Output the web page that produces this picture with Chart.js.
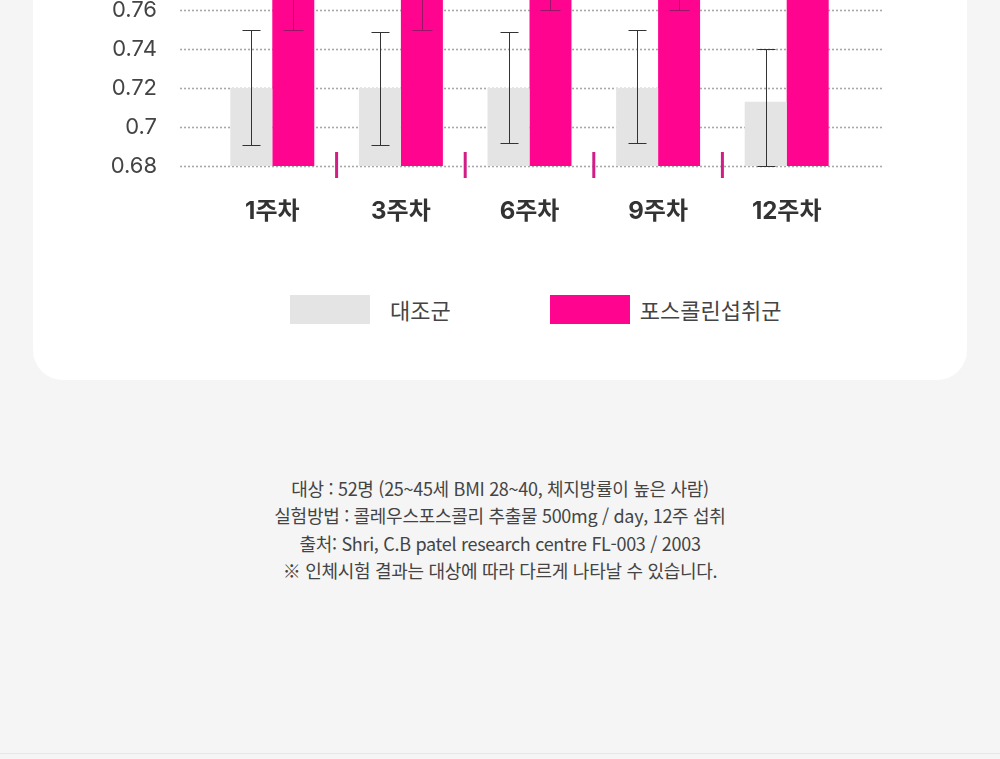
<!DOCTYPE html>
<html lang="ko">
<head>
<meta charset="utf-8">
<script src="https://cdn.jsdelivr.net/npm/chart.js@4.4.1/dist/chart.umd.min.js"></script>
<style>
  html, body { margin: 0; padding: 0; }
  body {
    width: 1000px; height: 759px; overflow: hidden; position: relative;
    background: #f5f5f5;
    font-family: "Noto Sans CJK KR", "Noto Sans", sans-serif;
  }
  .card {
    position: absolute; left: 33px; top: -100px; width: 934px; height: 480px;
    background: #fff; border-radius: 30px;
  }
  .chart-box { position: absolute; left: 0; top: -249px; width: 1000px; height: 489px; }
  .legend { position: absolute; left: 290px; top: 295px; display: flex; align-items: center; }
  .legend .item { display: flex; align-items: center; margin-right: 99px; }
  .legend .box { width: 80px; height: 29px; margin-right: 20px; }
  .legend .item:nth-child(2) .box { margin-right: 10px; }
  .legend .txt { font-size: 22px; color: #444; line-height: 29px; }
  .note {
    position: absolute; left: 0; top: 475px; width: 1000px; text-align: center;
    font-size: 18px; line-height: 27.3px; color: #444; letter-spacing: -0.3px;
  }
  .bottom-line { position: absolute; left: 0; top: 753px; width: 1000px; height: 1px; background: #e6e6e6; }
</style>
</head>
<body>
<div class="card"></div>
<div class="chart-box"><canvas id="bar_chart"></canvas></div>
<div class="legend" id="legend"></div>
<div class="note">
  대상 : 52명 (25~45세 BMI 28~40, 체지방률이 높은 사람)<br>
  실험방법 : 콜레우스포스콜리 추출물 500mg / day, 12주 섭취<br>
  출처: Shri, C.B patel research centre FL-003 / 2003<br>
  ※ 인체시험 결과는 대상에 따라 다르게 나타날 수 있습니다.
</div>
<div class="bottom-line"></div>

<script>
// 데이터
const weeks = ["1주차", "3주차", "6주차", "9주차", "12주차"];

const control_label = "대조군";
const control_values = [0.72, 0.72, 0.72, 0.72, 0.713];
const control_err_low = [0.691, 0.691, 0.692, 0.692, 0.68];
const control_err_high = [0.75, 0.749, 0.749, 0.75, 0.74];

// 위쪽은 잘려서 보이지 않음 - 추정값
const forskolin_label = "포스콜린섭취군";
const forskolin_values = [0.79, 0.79, 0.8, 0.8, 0.83];
const forskolin_err_low = [0.75, 0.75, 0.76, 0.76, 0.79];
const forskolin_err_high = [0.83, 0.83, 0.84, 0.84, 0.87];

const y_ticks = [0.68, 0.7, 0.72, 0.74, 0.76, 0.78, 0.8, 0.82, 0.84, 0.86];

const gray = "#e4e4e4";
const pink = "#ff048f";

// 점선 격자 (차트 영역보다 양옆으로 조금 길게)
const dottedGrid = {
  id: "dottedGrid",
  beforeDatasetsDraw(chart) {
    const { ctx, chartArea, scales } = chart;
    ctx.save();
    ctx.strokeStyle = "#a8a8a8";
    ctx.lineWidth = 1.6;
    ctx.setLineDash([2, 2]);
    y_ticks.forEach((v) => {
      const y = Math.round(scales.y.getPixelForValue(v)) + 0.5;
      ctx.beginPath();
      ctx.moveTo(chartArea.left - 28, y);
      ctx.lineTo(chartArea.right + 33, y);
      ctx.stroke();
    });
    ctx.restore();
  },
};

// 에러 바 + 구분 표시
const errorBars = {
  id: "errorBars",
  afterDatasetsDraw(chart) {
    const { ctx, scales } = chart;
    const sets = [
      { low: control_err_low, high: control_err_high, color: "#333", cap: 18 },
      { low: forskolin_err_low, high: forskolin_err_high, color: "#9c1468", cap: 20 },
    ];
    ctx.save();
    sets.forEach((s, di) => {
      const meta = chart.getDatasetMeta(di);
      meta.data.forEach((bar, i) => {
        const x = Math.round(bar.x) + 0.5;
        const y1 = Math.round(scales.y.getPixelForValue(s.low[i])) + 0.5;
        const y2 = Math.round(scales.y.getPixelForValue(s.high[i])) + 0.5;
        ctx.strokeStyle = s.color;
        ctx.lineWidth = 1;
        ctx.beginPath();
        ctx.moveTo(x, y1);
        ctx.lineTo(x, y2);
        ctx.moveTo(x - s.cap / 2, y1);
        ctx.lineTo(x + s.cap / 2, y1);
        ctx.moveTo(x - s.cap / 2, y2);
        ctx.lineTo(x + s.cap / 2, y2);
        ctx.stroke();
      });
    });

    // 주차 사이 분홍 구분선
    const base = scales.y.getPixelForValue(y_ticks[0]);
    ctx.strokeStyle = "#d21c86";
    ctx.lineWidth = 3;
    for (let i = 0; i < weeks.length - 1; i++) {
      const x = (scales.x.getPixelForValue(i) + scales.x.getPixelForValue(i + 1)) / 2;
      ctx.beginPath();
      ctx.moveTo(x, base - 14);
      ctx.lineTo(x, base + 12);
      ctx.stroke();
    }
    ctx.restore();
  },
};

const ctx = document.getElementById("bar_chart").getContext("2d");

const my_chart = new Chart(ctx, {
  type: "bar",
  data: {
    labels: weeks,
    datasets: [
      { label: control_label, data: control_values, backgroundColor: gray },
      { label: forskolin_label, data: forskolin_values, backgroundColor: pink },
    ],
  },
  options: {
    responsive: true,
    maintainAspectRatio: false,
    animation: false,
    layout: { padding: { top: 15, right: 149, bottom: 0, left: 0 } },
    datasets: { bar: { categoryPercentage: 0.653, barPercentage: 1.0 } },
    plugins: { legend: { display: false }, tooltip: { enabled: false } },
    scales: {
      x: {
        grid: { display: false, drawTicks: false },
        border: { display: false },
        ticks: {
          padding: 31,
          color: "#333",
          font: { family: "Inter, 'Noto Sans CJK KR'", size: 24, weight: "bold", lineHeight: 1.2 },
        },
        afterFit: (scale) => { scale.height = 74; },
      },
      y: {
        min: 0.68,
        max: 0.86,
        grid: { display: false, drawTicks: false },
        border: { display: false },
        ticks: {
          stepSize: 0.02,
          padding: 51,
          color: "#444",
          font: { family: "Inter, 'Noto Sans CJK KR'", size: 22 },
          callback: (v) => String(+Number(v).toFixed(2)),
        },
        afterFit: (scale) => { scale.width = 208; },
      },
    },
  },
  plugins: [dottedGrid, errorBars],
});

// 범례
const legend_el = document.getElementById("legend");
my_chart.data.datasets.forEach((ds) => {
  const item = document.createElement("div");
  item.className = "item";
  item.innerHTML = `<span class="box" style="background:${ds.backgroundColor}"></span><span class="txt">${ds.label}</span>`;
  legend_el.appendChild(item);
});
</script>
</body>
</html>
